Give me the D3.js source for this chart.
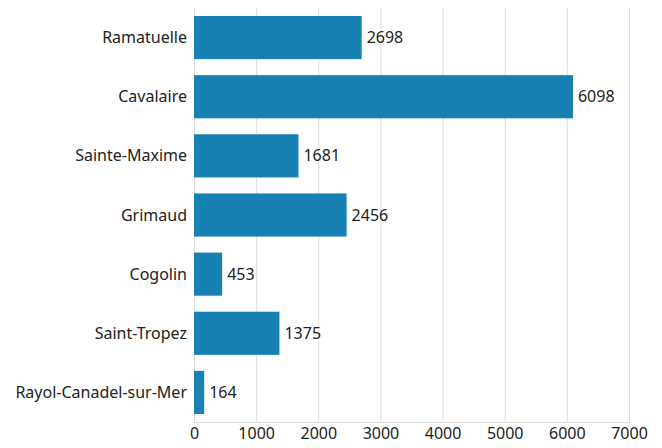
<!DOCTYPE html>
<html lang="en">
<head>
<meta charset="UTF-8">
<title>Bar chart</title>
<style>
  body { margin: 0; background: #fff; }
  text { font-family: "Noto Sans", Roboto, sans-serif; fill: #222; }
</style>
</head>
<body>
<svg id="chart" width="662" height="448"></svg>
<script src="https://d3js.org/d3.v7.min.js"></script>
<script>
var towns = ["Ramatuelle", "Cavalaire", "Sainte-Maxime", "Grimaud", "Cogolin", "Saint-Tropez", "Rayol-Canadel-sur-Mer"];
var counts = [2698, 6098, 1681, 2456, 453, 1375, 164];
var xTicks = [0, 1000, 2000, 3000, 4000, 5000, 6000, 7000];

var svg = d3.select("#chart"),
    plotLeft = 194, plotRight = 629, plotTop = 8, plotBottom = 422;

var x = d3.scaleLinear().domain([0, 7000]).range([plotLeft, plotRight]);
var y = d3.scaleBand().domain(towns).range([plotTop, plotBottom])
    .paddingInner(0.27).paddingOuter(0.135);

// grid
svg.append("g").selectAll("line")
  .data(xTicks)
  .join("line")
    .attr("x1", function (d) { return x(d) + 0.5; })
    .attr("x2", function (d) { return x(d) + 0.5; })
    .attr("y1", plotTop).attr("y2", plotBottom)
    .attr("stroke", "#dddddd").attr("stroke-width", 1);

svg.append("line")
  .attr("x1", plotLeft).attr("x2", plotRight + 1)
  .attr("y1", plotBottom + 0.5).attr("y2", plotBottom + 0.5)
  .attr("stroke", "#dddddd");

// bars
var data = towns.map(function (t, i) { return { town: t, value: counts[i] }; });

svg.append("g").selectAll("rect")
  .data(data)
  .join("rect")
    .attr("x", x(0))
    .attr("y", function (d) { return y(d.town); })
    .attr("width", function (d) { return x(d.value) - x(0); })
    .attr("height", y.bandwidth())
    .attr("fill", "#1881b3");

svg.append("g").selectAll("text")
  .data(data)
  .join("text")
    .attr("x", function (d) { return x(d.value) + 5; })
    .attr("y", function (d) { return y(d.town) + y.bandwidth() / 2; })
    .attr("dy", "0.35em")
    .style("font-size", "16px")
    .text(function (d) { return d.value; });

// category labels
svg.append("g").selectAll("text")
  .data(towns)
  .join("text")
    .attr("x", plotLeft - 7)
    .attr("y", function (d) { return y(d) + y.bandwidth() / 2; })
    .attr("dy", "0.35em")
    .attr("text-anchor", "end")
    .style("font-size", "16px")
    .text(function (d) { return d; });

// x axis
var xAxis = svg.append("g")
  .attr("transform", "translate(0," + plotBottom + ")")
  .call(d3.axisBottom(x).tickValues(xTicks).tickSize(0).tickPadding(6).tickFormat(d3.format("d")));
xAxis.select(".domain").remove();
xAxis.selectAll("text").style("font-size", "16px").attr("fill", "#222");
</script>
</body>
</html>
